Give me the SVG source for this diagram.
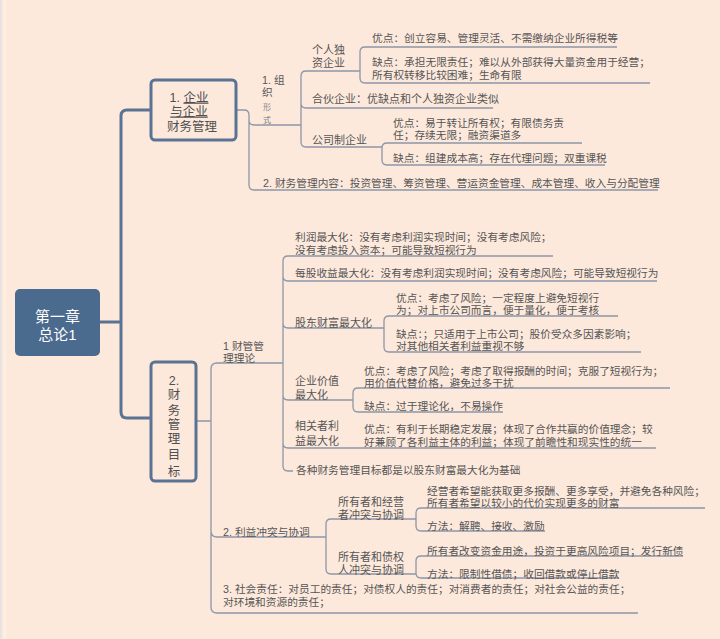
<svg xmlns="http://www.w3.org/2000/svg" width="720" height="639" viewBox="0 0 720 639">
<style>
.ln{fill:none;stroke:#8d97a7;stroke-width:1.3}
.tr{fill:none;stroke:#5a7393;stroke-width:3}
.box{fill:none;stroke:#5a7393;stroke-width:3}
text{font-family:"Liberation Sans","Noto Sans CJK SC",sans-serif;fill:#555}
.t{font-size:10.7px}
.h{font-size:11px}
.b{font-size:12.5px;text-anchor:middle;fill:#4f4f4f}
.r{font-size:15px;text-anchor:middle;fill:#fff}
</style>
<rect width="720" height="639" fill="#fde9dc"/>
<rect x="0" y="0" width="2.5" height="639" fill="#e8e4e2"/>
<rect x="2.5" y="0" width="4" height="639" fill="#fdeedf"/>

<g id="connectors">
  <path class="tr" d="M100 322 H121 M151 110 H127 Q121 110 121 116 V412 Q121 418 127 418 H151"/>
  <path class="ln" d="M236 110 H244 Q249 110 249 115 V185 Q249 190 254 190 H658 M249 120 Q249 125 254 125 H301"/>
  <path class="ln" d="M301 76 V142 M301 76 Q301 71 306 71 H360 M301 103 Q301 108 306 108 H493 M301 142 Q301 147 306 147 H382"/>
  <path class="ln" d="M360 52 V78 M360 52 Q360 47 365 47 H617 M360 78 Q360 83 365 83 H650"/>
  <path class="ln" d="M382 148 V160 M382 148 Q382 143 387 143 H582 M382 160 Q382 165 387 165 H605"/>
  <path class="ln" d="M196 421 H211 M283 363 H217 Q211 363 211 369 V607 Q211 613 217 613 H638 M211 531 Q211 537 217 537 H326"/>
  <path class="ln" d="M283 261 V466 M283 261 Q283 256 288 256 H553 M283 276 Q283 281 288 281 H657 M283 323 Q283 328 288 328 H384 M283 395 Q283 400 288 400 H353 M283 443 Q283 448 288 448 H656 M283 466 Q283 471 288 471 H293"/>
  <path class="ln" d="M384 321 V347 M384 321 Q384 316 389 316 H618 M384 347 Q384 352 389 352 H641"/>
  <path class="ln" d="M353 393 V407 M353 393 Q353 388 358 388 H670 M353 407 Q353 412 358 412 H503"/>
  <path class="ln" d="M326 524 V569 M326 524 Q326 519 331 519 H416 M326 569 Q326 574 331 574 H416"/>
  <path class="ln" d="M416 513 V526 M416 513 Q416 508 421 508 H705 M416 526 Q416 531 421 531 H545"/>
  <path class="ln" d="M416 561 V573 M416 561 Q416 556 421 556 H683 M416 573 Q416 578 421 578 H619"/>
</g>

<g id="root">
  <rect x="15" y="289" width="85" height="67" rx="5" fill="#4a6a8e"/>
  <text class="r" x="57.5" y="322">第一章<tspan x="57.5" dy="18">总论1</tspan></text>
</g>

<g id="n1">
  <rect class="box" x="151" y="80" width="85" height="60" rx="4"/>
  <text class="b" x="189" y="101.5">1. <tspan text-decoration="underline">企业</tspan><tspan x="189" dy="14" text-decoration="underline">与企业</tspan><tspan x="192" dy="15">财务管理</tspan></text>
</g>

<g id="n1-1">
  <text class="t" x="262" y="84">1. 组<tspan x="262" dy="12">织</tspan><tspan x="263" dy="14" style="font-size:8px;fill:#888">形</tspan><tspan x="263" dy="13" style="font-size:8px;fill:#777">式</tspan></text>
</g>
<g id="n1-1-1"><text class="h" x="312" y="54">个人独<tspan x="312" dy="12.5">资企业</tspan></text></g>
<g id="n1-1-1a"><text class="t" x="372" y="42">优点：创立容易、管理灵活、不需缴纳企业所得税等</text></g>
<g id="n1-1-1b"><text class="t" x="372" y="66">缺点：承担无限责任；难以从外部获得大量资金用于经营；<tspan x="372" dy="13">所有权转移比较困难；生命有限</tspan></text></g>
<g id="n1-1-2"><text class="h" x="312" y="103">合伙企业：优缺点和个人独资企业类似</text></g>
<g id="n1-1-3"><text class="h" x="312" y="144">公司制企业</text></g>
<g id="n1-1-3a"><text class="t" x="393" y="127">优点：易于转让所有权；有限债务责<tspan x="393" dy="12">任；存续无限；融资渠道多</tspan></text></g>
<g id="n1-1-3b"><text class="t" x="393" y="162">缺点：组建成本高；存在代理问题；双重课税</text></g>
<g id="n1-2"><text class="t" x="263" y="187">2. 财务管理内容：投资管理、筹资管理、营运资金管理、成本管理、收入与分配管理</text></g>

<g id="n2">
  <rect class="box" x="151" y="362" width="45" height="119" rx="4"/>
  <text class="b" x="174" y="384.5">2.<tspan x="174" dy="14">财</tspan><tspan x="174" dy="16">务</tspan><tspan x="174" dy="14">管</tspan><tspan x="174" dy="14">理</tspan><tspan x="174" dy="16">目</tspan><tspan x="174" dy="17">标</tspan></text>
</g>

<g id="n2-1"><text class="t" x="223" y="350">1 财管管<tspan x="223" dy="12">理理论</tspan></text></g>
<g id="n2-1-1"><text class="t" x="295" y="241">利润最大化：没有考虑利润实现时间；没有考虑风险；<tspan x="295" dy="13">没有考虑投入资本；可能导致短视行为</tspan></text></g>
<g id="n2-1-2"><text class="t" x="295" y="277">每股收益最大化：没有考虑利润实现时间；没有考虑风险；可能导致短视行为</text></g>
<g id="n2-1-3"><text class="h" x="295" y="327">股东财富最大化</text></g>
<g id="n2-1-3a"><text class="t" x="396" y="302">优点：考虑了风险；一定程度上避免短视行<tspan x="396" dy="12">为；对上市公司而言，便于量化，便于考核</tspan></text></g>
<g id="n2-1-3b"><text class="t" x="396" y="338">缺点：；只适用于上市公司；股价受众多因素影响；<tspan x="396" dy="12">对其他相关者利益重视不够</tspan></text></g>
<g id="n2-1-4"><text class="h" x="295" y="385">企业价值<tspan x="295" dy="14">最大化</tspan></text></g>
<g id="n2-1-4a"><text class="t" x="364" y="375">优点：考虑了风险；考虑了取得报酬的时间；克服了短视行为；<tspan x="364" dy="12">用价值代替价格，避免过多干扰</tspan></text></g>
<g id="n2-1-4b"><text class="t" x="364" y="410">缺点：过于理论化，不易操作</text></g>
<g id="n2-1-5"><text class="h" x="295" y="430">相关者利<tspan x="295" dy="15">益最大化</tspan></text></g>
<g id="n2-1-5a"><text class="t" x="364" y="433">优点：有利于长期稳定发展；体现了合作共赢的价值理念；较<tspan x="364" dy="13">好兼顾了各利益主体的利益；体现了前瞻性和现实性的统一</tspan></text></g>
<g id="n2-1-6"><text class="t" x="296" y="474">各种财务管理目标都是以股东财富最大化为基础</text></g>

<g id="n2-2"><text class="t" x="223" y="536">2. 利益冲突与协调</text></g>
<g id="n2-2-1"><text class="h" x="338" y="506">所有者和经营<tspan x="338" dy="12.5">者冲突与协调</tspan></text></g>
<g id="n2-2-1a"><text class="t" x="427" y="495">经营者希望能获取更多报酬、更多享受，并避免各种风险；<tspan x="427" dy="12">所有者希望以较小的代价实现更多的财富</tspan></text></g>
<g id="n2-2-1b"><text class="t" x="427" y="530">方法：解聘、接收、激励</text></g>
<g id="n2-2-2"><text class="h" x="338" y="561">所有者和债权<tspan x="338" dy="12.5">人冲突与协调</tspan></text></g>
<g id="n2-2-2a"><text class="t" x="427" y="555">所有者改变资金用途，投资于更高风险项目；发行新债</text></g>
<g id="n2-2-2b"><text class="t" x="427" y="578">方法：限制性借债；收回借款或停止借款</text></g>

<g id="n2-3"><text class="t" x="223" y="593">3. 社会责任：对员工的责任；对债权人的责任；对消费者的责任；对社会公益的责任；<tspan x="223" dy="13">对环境和资源的责任；</tspan></text></g>
</svg>
